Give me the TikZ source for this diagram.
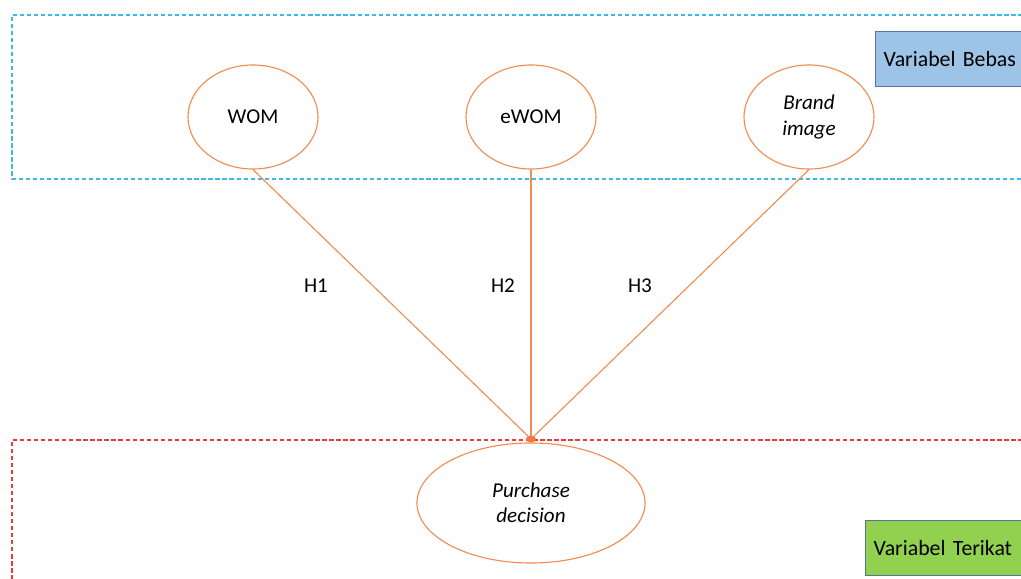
\documentclass[tikz,border=0pt]{standalone}
\usepackage{fontspec}
\setmainfont{Carlito}
\usetikzlibrary{shapes.geometric}

\definecolor{lineorange}{RGB}{240,140,80}
\definecolor{boxblue}{RGB}{157,195,230}
\definecolor{boxgreen}{RGB}{146,208,80}
\definecolor{edgeblue}{RGB}{90,115,160}
\definecolor{dashblue}{RGB}{60,185,230}
\definecolor{dashred}{RGB}{228,60,60}

\tikzset{
	varnode/.style={draw=lineorange, line width=0.8pt, ellipse, align=center,
		minimum width=3.25cm, minimum height=2.6cm, inner sep=0pt, font=\fontsize{15}{18}\selectfont},
	legendbox/.style={draw=edgeblue, line width=0.9pt, anchor=west, align=left,
		minimum height=1.38cm, minimum width=4.6cm, text width=4.2cm, inner xsep=0.2cm,
		font=\fontsize{15.5}{18}\selectfont},
	groupline/.style={line width=1pt, dash pattern=on 3pt off 2pt},
	hlabel/.style={font=\fontsize{15}{18}\selectfont}
}

\begin{document}
\begin{tikzpicture}[x=0.025cm, y=-0.025cm]
		\useasboundingbox (0,0) rectangle (1021,579);
		\clip (0,0) rectangle (1021,579);
		
		% groups
		\draw[groupline, dashblue] (1100,15) -- (12,15) -- (12,179) -- (1100,179);
		\draw[groupline, dashred] (1100,440) -- (12,440) -- (12,600);
		
		\node[legendbox, fill=boxblue] (bebas) at (875,59) {Variabel Bebas};
		\node[legendbox, fill=boxgreen] (terikat) at (865,548) {Variabel Terikat};
		
		\node[varnode] (wom) at (253,117) {WOM};
		\node[varnode] (ewom) at (531,117) {eWOM};
		\node[varnode] (brand) at (809,117) {\itshape Brand\\ \itshape image};
		
		\node[varnode, minimum width=5.7cm, minimum height=3cm] (pd) at (531,503) {\itshape Purchase\\ \itshape decision};
		
		\coordinate (hub) at (531,439);
		
		%========================================================================
		% Arrows
		\draw[lineorange, line width=0.8pt] (wom.south) to (hub);
		\draw[lineorange, line width=0.8pt] (ewom.south) to (hub);
		\draw[lineorange, line width=0.8pt] (brand.south) to (hub);
		\fill[lineorange!85!red] (hub) ellipse (5 and 3.5);
		
		\node[hlabel] (h1) at (316,286) {H1};
		\node[hlabel] (h2) at (503,286) {H2};
		\node[hlabel] (h3) at (640,286) {H3};
	\end{tikzpicture}
\end{document}
